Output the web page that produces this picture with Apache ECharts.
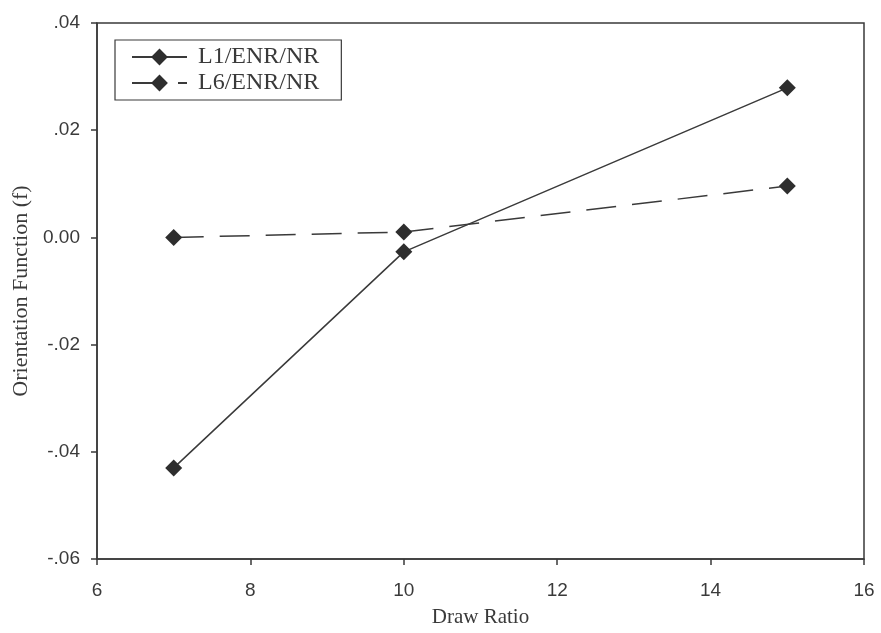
<!DOCTYPE html>
<html>
<head>
<meta charset="utf-8">
<style>
  html, body { margin: 0; padding: 0; background: #fff; }
  #chart { width: 881px; height: 633px; }
</style>
<script src="https://cdn.jsdelivr.net/npm/echarts@6/dist/echarts.min.js"></script>
</head>
<body>
<div id="chart"></div>
<script>
// Draw ratio on x, orientation function on y
const drawRatio = [7, 10, 15];
const seriesNames = ['L1/ENR/NR', 'L6/ENR/NR'];
const l1Values = [-0.0430, -0.0027, 0.0279];
const l6Values = [0.0000, 0.0010, 0.0096];
const xTicks = [6, 8, 10, 12, 14, 16];
const yTicks = [-0.06, -0.04, -0.02, 0.00, 0.02, 0.04];

const ink = '#3a3a3a';
const serif = '"Liberation Serif", "Times New Roman", serif';
const sans = '"Liberation Sans", Arial, sans-serif';

function fmtY(v) {
  const r = Math.round(v * 100) / 100;
  if (r === 0) return '0.00';
  const s = Math.abs(r).toFixed(2).replace(/^0/, '');
  return (r < 0 ? '-' : '') + s;
}

function pairs(vals) {
  return drawRatio.map((x, i) => [x, vals[i]]);
}

const chart = echarts.init(document.getElementById('chart'), null, { renderer: 'canvas' });

chart.setOption({
  backgroundColor: '#fff',
  animation: false,
  grid: {
    left: 97, right: 17, top: 23, bottom: 72,
    show: true, borderColor: ink, borderWidth: 1.5, backgroundColor: 'transparent'
  },
  legend: {
    left: 115, top: 40,
    orient: 'vertical',
    data: seriesNames,
    itemWidth: 55, itemHeight: 21, itemGap: 2,
    padding: [5, 22, 5, 16],
    borderColor: ink, borderWidth: 1.2,
    textStyle: { fontFamily: serif, fontSize: 24, color: ink, padding: [0, 0, 0, 6] }
  },
  xAxis: {
    type: 'value',
    min: xTicks[0], max: xTicks[xTicks.length - 1], interval: 2,
    name: 'Draw Ratio',
    nameLocation: 'middle', nameGap: 48,
    nameTextStyle: { fontFamily: serif, fontSize: 21, color: ink },
    axisLine: { show: true, onZero: false, lineStyle: { color: ink, width: 1.5 } },
    axisTick: { show: true, inside: false, length: 6, lineStyle: { color: ink, width: 1.5 } },
    axisLabel: { fontFamily: sans, fontSize: 19, color: ink, margin: 22 },
    splitLine: { show: false }
  },
  yAxis: {
    type: 'value',
    min: yTicks[0], max: yTicks[yTicks.length - 1], interval: 0.02,
    name: 'Orientation Function (f)',
    nameLocation: 'middle', nameGap: 60,
    nameTextStyle: { fontFamily: serif, fontSize: 22, color: ink },
    axisLine: { show: true, onZero: false, lineStyle: { color: ink, width: 1.5 } },
    axisTick: { show: true, inside: false, length: 6, lineStyle: { color: ink, width: 1.5 } },
    axisLabel: { fontFamily: sans, fontSize: 19, color: ink, margin: 17, formatter: fmtY },
    splitLine: { show: false }
  },
  series: [
    {
      name: seriesNames[0],
      type: 'line',
      data: pairs(l1Values),
      symbol: 'diamond', symbolSize: 17,
      itemStyle: { color: '#2e2e2e' },
      lineStyle: { color: ink, width: 1.5, type: 'solid' }
    },
    {
      name: seriesNames[1],
      type: 'line',
      data: pairs(l6Values),
      symbol: 'diamond', symbolSize: 17,
      itemStyle: { color: '#2e2e2e' },
      lineStyle: { color: ink, width: 1.5, type: [30, 16] }
    }
  ]
});
</script>
</body>
</html>
